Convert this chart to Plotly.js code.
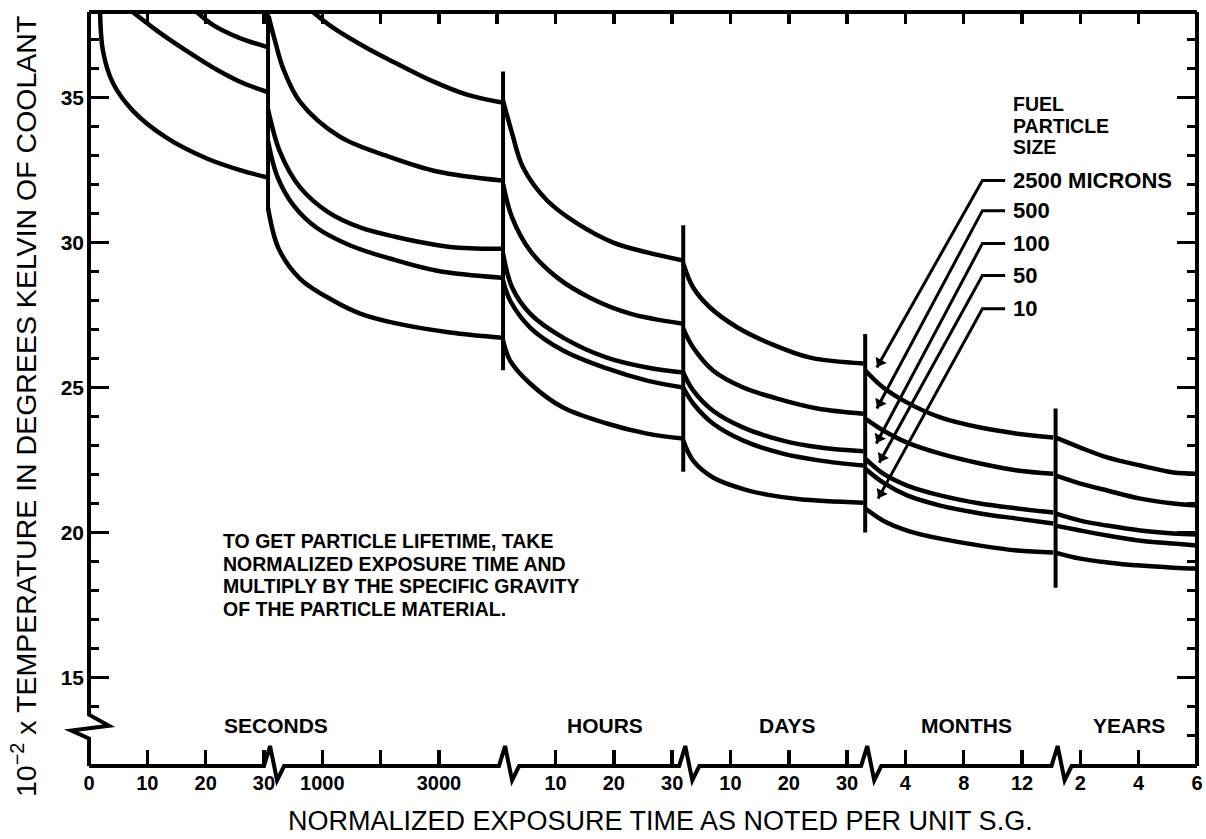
<!DOCTYPE html>
<html>
<head>
<meta charset="utf-8">
<script src="https://cdn.plot.ly/plotly-3.0.1.min.js"></script>
<style>html,body{margin:0;padding:0;background:#fff}</style>
</head>
<body>
<div id="chart" style="width:1206px;height:839px"></div>
<script>
const FONT = 'Liberation Sans, Arial, Helvetica, sans-serif';

// Particle sizes (microns), top curve to bottom curve
const SIZES = ['2500', '500', '100', '50', '10'];

// ---- Segment 1: SECONDS (0-30 s) ----
const sec_t_100 = [18.5, 21.3, 25.9, 30.5];
const sec_T_100 = [37.95, 37.5, 37.05, 36.75];
const sec_t_50 = [7.5, 11.7, 16.8, 22.0, 26.4, 30.5];
const sec_T_50 = [37.95, 37.3, 36.6, 35.95, 35.5, 35.2];
const sec_t_10 = [1.9, 2.4, 4.1, 7.5, 13.4, 20.2, 25.9, 30.5];
const sec_T_10 = [37.95, 36.6, 35.5, 34.55, 33.6, 32.9, 32.5, 32.25];

// ---- Segment 2: SECONDS (1000-4000 s) ----
const ks_t_2500 = [840, 1190, 1770, 2250, 2850, 3480, 4080];
const ks_T_2500 = [37.95, 37.4, 36.7, 36.2, 35.6, 35.1, 34.83];
const ks_t_500 = [80, 190, 330, 620, 1300, 2160, 2970, 4080];
const ks_T_500 = [37.8, 36.95, 36.0, 34.85, 33.65, 32.95, 32.45, 32.14];
const ks_t_100 = [70, 280, 620, 1100, 1650, 2250, 3190, 4080];
const ks_T_100 = [34.6, 33.1, 31.9, 31.05, 30.52, 30.2, 29.85, 29.79];
const ks_t_50 = [70, 225, 500, 910, 1480, 2160, 2970, 4080];
const ks_T_50 = [33.5, 32.3, 31.3, 30.5, 29.9, 29.45, 29.03, 28.79];
const ks_t_10 = [70, 250, 620, 1185, 1650, 2250, 3190, 4080];
const ks_T_10 = [31.2, 29.8, 28.75, 28.0, 27.55, 27.22, 26.9, 26.72];

// ---- Segment 3: HOURS ----
const hr_t_2500 = [1.0, 2.56, 4.44, 8.56, 13.7, 19.9, 25.7, 31.9];
const hr_T_2500 = [34.9, 33.76, 32.59, 31.45, 30.66, 30.0, 29.66, 29.38];
const hr_t_500 = [1.0, 2.56, 5.64, 10.3, 15.9, 22.8, 31.9];
const hr_T_500 = [32.03, 30.86, 29.72, 28.79, 28.1, 27.55, 27.2];
const hr_t_100 = [1.0, 2.56, 5.64, 11.3, 18.8, 25.7, 31.9];
const hr_T_100 = [29.62, 28.45, 27.55, 26.72, 26.03, 25.69, 25.52];
const hr_t_50 = [1.0, 2.21, 5.64, 11.3, 18.8, 25.7, 31.9];
const hr_T_50 = [28.69, 28.0, 27.07, 26.28, 25.66, 25.24, 25.0];
const hr_t_10 = [1.0, 2.21, 5.64, 11.3, 18.8, 25.7, 31.9];
const hr_T_10 = [26.62, 25.93, 25.14, 24.31, 23.76, 23.41, 23.24];

// ---- Segment 4: DAYS ----
const day_t_2500 = [1.9, 3.6, 6.5, 11.2, 16.8, 23.7, 32.8];
const day_T_2500 = [29.28, 28.45, 27.76, 27.07, 26.52, 26.03, 25.83];
const day_t_500 = [1.9, 3.6, 7.0, 12.2, 18.0, 24.9, 32.8];
const day_T_500 = [27.03, 26.38, 25.59, 25.0, 24.62, 24.28, 24.1];
const day_t_100 = [1.9, 3.6, 7.0, 12.2, 19.0, 25.4, 32.8];
const day_T_100 = [25.52, 24.9, 24.2, 23.62, 23.17, 22.93, 22.8];
const day_t_50 = [1.9, 3.6, 7.0, 12.2, 19.0, 25.4, 32.8];
const day_T_50 = [25.0, 24.45, 23.76, 23.17, 22.72, 22.48, 22.31];
const day_t_10 = [1.9, 3.6, 7.0, 12.2, 16.5, 21.9, 32.8];
const day_T_10 = [23.17, 22.48, 21.9, 21.5, 21.3, 21.15, 21.03];

// ---- Segment 5: MONTHS ----
const mo_t = [1.25, 2.48, 4.12, 6.39, 9.13, 11.67, 14.14];
const mo_T_2500 = [25.59, 25.0, 24.48, 23.97, 23.62, 23.41, 23.28];
const mo_T_500 = [23.93, 23.52, 23.1, 22.72, 22.38, 22.14, 22.03];
const mo_T_100 = [22.55, 22.03, 21.62, 21.28, 21.0, 20.83, 20.69];
const mo_T_50 = [22.2, 21.72, 21.28, 20.93, 20.66, 20.48, 20.31];
const mo_T_10 = [20.83, 20.41, 20.07, 19.79, 19.55, 19.38, 19.31];

// ---- Segment 6: YEARS ----
const yr_t = [1.14, 2.0, 2.92, 4.06, 5.19, 6.0];
const yr_T_2500 = [23.28, 22.93, 22.59, 22.31, 22.07, 22.03];
const yr_T_500 = [21.97, 21.69, 21.45, 21.17, 21.0, 20.93];
const yr_T_100 = [20.66, 20.41, 20.24, 20.07, 19.97, 19.93];
const yr_T_50 = [20.24, 20.07, 19.9, 19.72, 19.62, 19.55];
const yr_T_10 = [19.31, 19.1, 18.97, 18.86, 18.79, 18.76];

// ---- Axis ticks per segment (local units) ----
const sec_ticks = [0, 10, 20, 30];
const ks_ticks = [1000, 3000];        // labelled
const ks_unlabelled = [2000];         // tick mark only
const hr_ticks = [10, 20, 30];
const day_ticks = [10, 20, 30];
const mo_ticks = [4, 8, 12];
const yr_ticks = [2, 4, 6];

// ---- Segment breaks: end of the left segment (local units) and vertical line extent ----
const break_seg = ['sec', 'ks', 'hr', 'day', 'mo'];
const break_t = [30.7, 4100, 31.9, 33.1, 14.3];
const break_top = [37.95, 35.9, 30.6, 26.85, 24.28];
const break_bottom = [31.1, 25.6, 22.1, 20.0, 18.1];

const y_major = [15, 20, 25, 30, 35];
const unit_names = ['SECONDS', 'HOURS', 'DAYS', 'MONTHS', 'YEARS'];
const unit_label_pos = [3.21, 8.85, 11.97, 15.04, 17.83];

const legend_title = ['FUEL', 'PARTICLE', 'SIZE'];
const legend_labels = ['2500 MICRONS', '500', '100', '50', '10'];
const note_lines = ['TO GET PARTICLE LIFETIME, TAKE', 'NORMALIZED EXPOSURE TIME AND',
                    'MULTIPLY BY THE SPECIFIC GRAVITY', 'OF THE PARTICLE MATERIAL.'];

// ---- Broken-axis mapping: each labelled segment is linear in its own unit ----
const SEG = {
  sec: {offset: 0, step: 10},
  ks: {offset: 3, step: 1000},
  hr: {offset: 7, step: 10},
  day: {offset: 10, step: 10},
  mo: {offset: 13, step: 4},
  yr: {offset: 16, step: 2}
};
const P = (seg, t) => SEG[seg].offset + t / SEG[seg].step;

const CURVES = {
  '2500': [['ks', ks_t_2500, ks_T_2500], ['hr', hr_t_2500, hr_T_2500], ['day', day_t_2500, day_T_2500], ['mo', mo_t, mo_T_2500], ['yr', yr_t, yr_T_2500]],
  '500': [['ks', ks_t_500, ks_T_500], ['hr', hr_t_500, hr_T_500], ['day', day_t_500, day_T_500], ['mo', mo_t, mo_T_500], ['yr', yr_t, yr_T_500]],
  '100': [['sec', sec_t_100, sec_T_100], ['ks', ks_t_100, ks_T_100], ['hr', hr_t_100, hr_T_100], ['day', day_t_100, day_T_100], ['mo', mo_t, mo_T_100], ['yr', yr_t, yr_T_100]],
  '50': [['sec', sec_t_50, sec_T_50], ['ks', ks_t_50, ks_T_50], ['hr', hr_t_50, hr_T_50], ['day', day_t_50, day_T_50], ['mo', mo_t, mo_T_50], ['yr', yr_t, yr_T_50]],
  '10': [['sec', sec_t_10, sec_T_10], ['ks', ks_t_10, ks_T_10], ['hr', hr_t_10, hr_T_10], ['day', day_t_10, day_T_10], ['mo', mo_t, mo_T_10], ['yr', yr_t, yr_T_10]]
};

const traces = SIZES.map(size => {
  const x = [], y = [];
  CURVES[size].forEach(([seg, ts, Ts], i) => {
    if (i) { x.push(null); y.push(null); }
    ts.forEach((t, k) => { x.push(P(seg, t)); y.push(Ts[k]); });
  });
  return {type: 'scatter', mode: 'lines', name: size + ' microns', x, y,
          line: {color: '#000', width: 4.5, shape: 'spline', smoothing: 1},
          connectgaps: false, hoverinfo: 'skip'};
});

// vertical lines at the segment breaks
const breakPos = break_t.map((t, i) => P(break_seg[i], t));
const bx = [], by = [];
breakPos.forEach((b, i) => { bx.push(b, b, null); by.push(break_top[i], break_bottom[i], null); });
traces.push({type: 'scatter', mode: 'lines', x: bx, y: by, line: {color: '#000', width: 4}, hoverinfo: 'skip'});

const XMAX = P('yr', 6);
const YR = [11.95, 37.95];
const PLOT_W = 1108, PLOT_H = 754;
const pxX = PLOT_W / XMAX, pxY = PLOT_H / (YR[1] - YR[0]);

// ---- legend leader lines (label stub -> diagonal -> arrow onto curve) ----
const leader_from_x = 15.32, stub_to_x = 15.71, label_x = 15.83;
const leader_from_T = [32.14, 31.1, 29.97, 28.86, 27.72];
const leader_tip_x = [13.51, 13.51, 13.50, 13.55, 13.53];
const leader_tip_T = [25.69, 24.28, 23.07, 22.41, 21.17];
const lx = [], ly = [], ax = [], ay = [], ang = [];
legend_labels.forEach((lab, i) => {
  lx.push(stub_to_x, leader_from_x, leader_tip_x[i], null);
  ly.push(leader_from_T[i], leader_from_T[i], leader_tip_T[i], null);
  const dxp = (leader_tip_x[i] - leader_from_x) * pxX;
  const dyp = -(leader_tip_T[i] - leader_from_T[i]) * pxY;
  const len = Math.hypot(dxp, dyp);
  const back = 6;
  ax.push(leader_tip_x[i] - dxp / len * back / pxX);
  ay.push(leader_tip_T[i] + dyp / len * back / pxY);
  ang.push(Math.atan2(dxp, -dyp) * 180 / Math.PI);
});
traces.push({type: 'scatter', mode: 'lines', x: lx, y: ly, line: {color: '#000', width: 3}, hoverinfo: 'skip'});
traces.push({type: 'scatter', mode: 'markers', x: ax, y: ay, hoverinfo: 'skip',
  marker: {symbol: 'triangle-up', size: 11, color: '#000', angle: ang, line: {width: 0}}});

// dummy trace for the mirrored (top/right) tick axes
traces.push({type: 'scatter', mode: 'lines', x: [null], y: [null], xaxis: 'x2', yaxis: 'y2', hoverinfo: 'skip'});

// tick values on the composite axis
const tickvals = [], ticktext = [];
[['sec', sec_ticks], ['ks', ks_ticks], ['hr', hr_ticks], ['day', day_ticks], ['mo', mo_ticks], ['yr', yr_ticks]]
  .forEach(([seg, vals]) => vals.forEach(v => { tickvals.push(P(seg, v)); ticktext.push('<b>' + v + '</b>'); }));
const xMinor = ks_unlabelled.map(v => P('ks', v));

const topTicks = []; for (let k = 1; k < XMAX; k++) topTicks.push(k);
const leftMinor = [], rightMinor = [];
for (let v = 13; v <= 37; v++) { if (v % 5) { rightMinor.push(v); if (v !== 13) leftMinor.push(v); } }

// ---- frame with break symbols ----
const shapes = [];
const LW = 4;
shapes.push({type: 'line', xref: 'paper', yref: 'paper', x0: 0, x1: 1, y0: 1, y1: 1, line: {color: '#000', width: LW}});
shapes.push({type: 'line', xref: 'paper', yref: 'paper', x0: 1, x1: 1, y0: 0, y1: 1, line: {color: '#000', width: LW}});
shapes.push({type: 'path', xref: 'paper', yref: 'y',
  path: `M0,${YR[1]} L0,13.72 L0.018,13.34 L-0.016,13.17 L0,12.9 L0,${YR[0]}`,
  line: {color: '#000', width: LW}});
let bottomPath = 'M0,0';
breakPos.forEach(b => {
  bottomPath += ` L${b - 0.07},0 L${b + 0.035},0.0265 L${b + 0.155},-0.019 L${b + 0.275},0`;
});
bottomPath += ` L${XMAX},0`;
shapes.push({type: 'path', xref: 'x', yref: 'paper', path: bottomPath, line: {color: '#000', width: LW}});

const annotations = [];
const txt = (x, y, t, size, opts) => Object.assign({xref: 'x', yref: 'y', x, y, xanchor: 'left', yanchor: 'middle',
  text: '<b>' + t + '</b>', showarrow: false, borderpad: 0, font: {family: FONT, size, color: '#000'}}, opts || {});
legend_labels.forEach((lab, i) => annotations.push(txt(label_x, leader_from_T[i], lab, 22)));
legend_title.forEach((t, i) => annotations.push(txt(label_x, [34.79, 34.03, 33.28][i], t, 19.5)));
note_lines.forEach((t, i) => annotations.push(txt(2.28, [19.7, 18.92, 18.14, 17.36][i], t, 19.5)));
unit_names.forEach((t, i) => annotations.push(txt(unit_label_pos[i], 13.34, t, 21, {xanchor: 'center'})));

annotations.push({xref: 'paper', yref: 'paper', x: (24 - 89) / PLOT_W, y: (766 - 407) / PLOT_H, xanchor: 'center', yanchor: 'middle', textangle: -90,
  text: '10<sup>−2</sup> x TEMPERATURE IN DEGREES KELVIN OF COOLANT', showarrow: false,
  font: {family: FONT, size: 28.5, color: '#000'}});
annotations.push({xref: 'paper', yref: 'paper', x: (660 - 89) / PLOT_W, y: (766 - 821) / PLOT_H, xanchor: 'center', yanchor: 'middle',
  text: 'NORMALIZED EXPOSURE TIME AS NOTED PER UNIT S.G.', showarrow: false,
  font: {family: FONT, size: 27, color: '#000'}});

const layout = {
  width: 1206, height: 839,
  margin: {l: 89, r: 9, t: 12, b: 73},
  paper_bgcolor: '#fff', plot_bgcolor: '#fff',
  showlegend: false,
  xaxis: {range: [0, XMAX], showgrid: false, zeroline: false, showline: false,
    tickmode: 'array', tickvals, ticktext, ticks: 'inside', ticklen: 16, tickwidth: 3.5, tickcolor: '#000',
    tickfont: {family: FONT, size: 20, color: '#000'}, ticklabelstandoff: 3,
    minor: {tickmode: 'array', tickvals: xMinor, ticks: 'inside', ticklen: 16, tickwidth: 3.5, tickcolor: '#000'},
    fixedrange: true},
  xaxis2: {overlaying: 'x', side: 'top', range: [0, XMAX], showgrid: false, zeroline: false, showline: false,
    tickmode: 'array', tickvals: topTicks, ticks: 'inside', ticklen: 12, tickwidth: 3.5, tickcolor: '#000',
    showticklabels: false, fixedrange: true},
  yaxis: {range: YR, showgrid: false, zeroline: false, showline: false,
    tickmode: 'array', tickvals: y_major, ticktext: y_major.map(v => '<b>' + v + '</b>'),
    ticks: 'inside', ticklen: 20, tickwidth: 3.5, tickcolor: '#000',
    tickfont: {family: FONT, size: 21, color: '#000'}, ticklabelstandoff: 4,
    minor: {tickmode: 'array', tickvals: leftMinor, ticks: 'inside', ticklen: 10, tickwidth: 3, tickcolor: '#000'},
    fixedrange: true},
  yaxis2: {overlaying: 'y', side: 'right', range: YR, showgrid: false, zeroline: false, showline: false,
    tickmode: 'array', tickvals: y_major, ticks: 'inside', ticklen: 20, tickwidth: 3.5, tickcolor: '#000',
    showticklabels: false,
    minor: {tickmode: 'array', tickvals: rightMinor, ticks: 'inside', ticklen: 10, tickwidth: 3, tickcolor: '#000'},
    fixedrange: true},
  shapes, annotations
};

Plotly.newPlot('chart', traces, layout, {staticPlot: true, displayModeBar: false});
</script>
</body>
</html>
